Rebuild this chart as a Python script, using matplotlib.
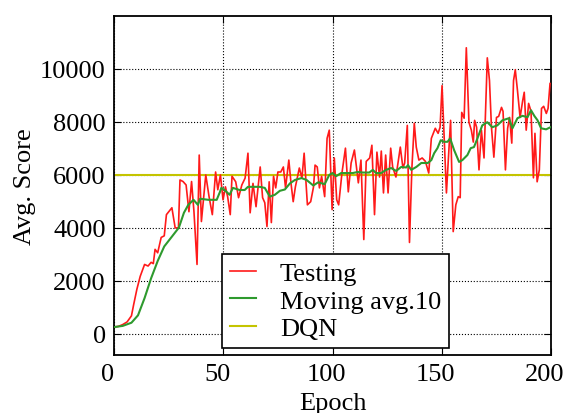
import matplotlib
matplotlib.use("Agg")
import matplotlib.pyplot as plt
from matplotlib.transforms import ScaledTranslation

# ---- data ----
red_epochs = [0, 2, 4, 6, 8, 9, 10.5, 12, 13, 14, 15.6, 17, 18, 18.8, 20, 21.6, 23, 24, 26.5, 28,
              29.5, 30.2, 31.6, 33, 34.3, 35.5, 36.6, 38, 39, 40, 42, 43.5, 45, 46.5, 47.5, 48.7,
              49.9, 51, 52, 53.2, 54, 55.7, 57, 58.5, 60, 61.3, 62.3, 63.6, 65, 66.9, 68, 69, 70,
              71, 72, 73, 74, 75, 76.3, 77.5, 78.5, 80, 81, 82, 83, 84.8, 86, 87, 88.5, 90, 91.3,
              92, 93, 94, 95, 96.4, 97.5, 98.5, 99.8, 100.8, 101.9, 102.8, 104.3, 105.9, 107.2,
              108.5, 110, 111.8, 113, 114.3, 115.4, 117, 118, 119.2, 120.3, 121.5, 122.3, 123.3,
              124.3, 125.4, 126.6, 127.5, 129, 131, 132.2, 133, 134.2, 135.2, 136.3, 137.4, 138.3,
              139.5, 141, 142.5, 144, 145.2, 147, 148.3, 149.2, 150.1, 151, 152.1, 153.3, 154,
              155.2, 156.4, 157.5, 158.4, 159.1, 160.2, 161.2, 162.4, 163.5, 164.4, 165, 165.9,
              167, 168.1, 169.3, 170.8, 171.8, 172.7, 173.8, 175, 176, 177.3, 178, 179.1, 180.1,
              181, 182, 182.8, 183.6, 184.6, 185.8, 187, 187.7, 188.6, 189.7, 190.8, 191.9, 192.6,
              193.6, 194.6, 195.6, 196.6, 197.8, 198.6, 199.5]
red_scores = [260, 280, 350, 450, 680, 1100, 1690, 2170, 2400, 2620, 2560, 2700, 2650, 3190, 3060,
              3640, 3700, 4500, 4760, 4000, 4000, 5810, 5750, 5620, 4610, 5750, 4610, 2620, 6750,
              4240, 6000, 5180, 4500, 6110, 5440, 6000, 5060, 5550, 5180, 4500, 5950, 5740, 5140,
              5620, 5880, 6820, 4570, 5680, 4800, 6300, 5140, 4950, 4050, 5740, 4200, 5950, 5510,
              6110, 6110, 6300, 5510, 6560, 5680, 4990, 5550, 6260, 5880, 6820, 4870, 4990, 5550,
              6370, 6300, 5510, 5950, 5180, 7380, 7690, 4690, 6640, 5060, 4870, 6070, 7010, 5360,
              6450, 6940, 5700, 6560, 3560, 6510, 6640, 7120, 4500, 6860, 5920, 6900, 5320, 6750,
              5320, 7010, 6300, 5920, 7050, 6260, 6450, 7870, 3450, 6260, 7950, 7050, 6560, 6640,
              6510, 6070, 7380, 7760, 7570, 7800, 9370, 7570, 5320, 7010, 8060, 3860, 4870, 5180,
              5140, 8360, 8140, 10800, 7990, 7690, 7240, 8060, 7800, 6190, 7690, 6640, 10420, 9560,
              7800, 6670, 8170, 8210, 8550, 8400, 6190, 7760, 8170, 7200, 9560, 9970, 9190, 8170,
              8810, 9120, 7690, 8700, 8400, 5890, 7570, 5740, 6190, 8510, 8590, 8320, 8510, 9450]

green_epochs = [0.5, 4, 8, 11, 14, 17, 20, 23, 26.5, 29.7, 32, 34, 36.4, 38.4, 39.4, 43.2, 47, 48.5,
                49.1, 50.6, 52.9, 54.4, 57.5, 59.8, 61.3, 64.4, 66.6, 69, 71.3, 73.6, 75.9, 78.2,
                80.5, 82.8, 85.8, 88.1, 91.2, 93.4, 96.4, 98.5, 100, 101.6, 103.9, 106.2, 109.2,
                111.5, 113.8, 116.8, 118.4, 119.9, 122.2, 124.5, 126.8, 129.1, 131.4, 133.7, 134.5,
                136, 138.3, 140.6, 143.6, 145.2, 146.5, 148, 149.5, 151, 152.6, 153.8, 155.6, 157.9,
                159.4, 161.7, 163.2, 164.7, 166.3, 168.5, 170.8, 173.1, 175.4, 177.7, 180.7, 182.3,
                184.6, 186.9, 189.2, 190.8, 192.3, 193.8, 195.4, 197.7, 199.7]
green_scores = [260, 300, 420, 700, 1350, 2100, 2750, 3300, 3670, 4010, 4570, 4870, 5060, 4870, 5100,
                5060, 5060, 5360, 5510, 5430, 5250, 5510, 5430, 5430, 5550, 5550, 5550, 5510, 5180,
                5250, 5400, 5450, 5680, 5810, 5880, 5810, 5600, 5720, 5650, 6000, 6070, 5950, 6070,
                6070, 6070, 6110, 6090, 6090, 6190, 6070, 6070, 6190, 6260, 6150, 6300, 6280, 6370,
                6190, 6300, 6450, 6450, 6560, 6820, 7010, 7310, 7250, 7250, 7380, 6940, 6490, 6560,
                6750, 7010, 7050, 7380, 7870, 7990, 7800, 7870, 8060, 8140, 7760, 8140, 8230, 8180,
                8440, 8230, 8060, 7760, 7720, 7800]

dqn_score = 6000
series_labels = ["Testing", "Moving avg.10", "DQN"]
x_ticks = [0, 50, 100, 150, 200]
y_ticks = [0, 2000, 4000, 6000, 8000, 10000]

plt.rcParams['font.family'] = ['Liberation Serif', 'DejaVu Serif']
plt.rcParams['font.size'] = 19

fig = plt.figure(figsize=(5.67, 4.14), dpi=100)
ax = fig.add_axes([0.201, 0.140, 0.771, 0.819])

ax.plot(red_epochs, red_scores, color='#ff1a1a', lw=1.2, label=series_labels[0], zorder=3)
ax.plot(green_epochs, green_scores, color='#2e9a2e', lw=1.5, label=series_labels[1], zorder=4)
ax.axhline(dqn_score, color='#c4c400', lw=1.5, label=series_labels[2], zorder=2)

ax.set_xlim(0, 200)
ax.set_ylim(-800, 12000)
ax.set_xticks(x_ticks)
ax.set_yticks(y_ticks)
ax.grid(True, color='black', linestyle=':', linewidth=0.8)
ax.tick_params(direction='in', top=True, right=True, length=5, width=0.8, pad=6)
for s in ax.spines.values():
    s.set_linewidth(1.3)

# x tick labels sit slightly left of their ticks in the reference
shift = ScaledTranslation(-6 / 100, 0, fig.dpi_scale_trans)
for lbl in ax.get_xticklabels():
    lbl.set_transform(lbl.get_transform() + shift)

ax.set_xlabel("Epoch", labelpad=5)
ax.set_ylabel("Avg. Score", labelpad=3)

leg = ax.legend(loc='lower left', bbox_to_anchor=(0.247, 0.021), borderaxespad=0,
                fancybox=False, framealpha=1, edgecolor='black', handlelength=1.0,
                handletextpad=0.9, borderpad=0.3, labelspacing=0.15, fontsize=19)
leg.get_frame().set_linewidth(1.2)

fig.savefig("out.png", dpi=100)
